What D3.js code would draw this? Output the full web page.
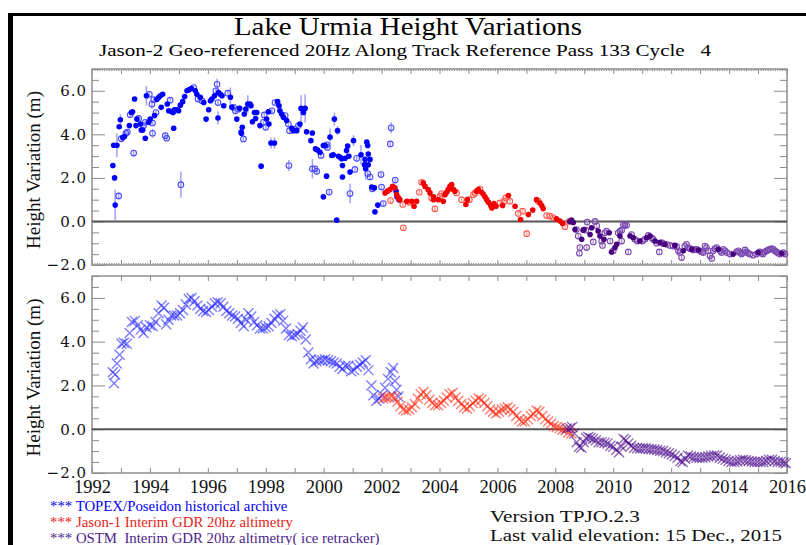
<!DOCTYPE html>
<html>
<head>
<meta charset="utf-8">
<script src="https://cdn.jsdelivr.net/npm/d3@7"></script>
<style>
  body { margin: 0; background: #fff; }
  svg { display: block; }
</style>
</head>
<body>
<div class="chart"></div>
<script>
// ---- data ----
// top panel: [decimal year, height (m), error (m), open marker 1/0]
var topexRaw = [
  [1992.72,2.57,0.1,0],[1992.78,2.0,0.1,0],[1992.80,0.75,0.7,0],[1992.75,3.5,0.1,0],[1992.86,3.5,0.55,0],
  [1992.92,1.17,0.15,1],[1992.94,4.35,0.1,0],[1992.98,4.67,0.25,0],[1993.01,3.8,0.1,1],[1993.06,3.85,0.1,0],
  [1993.12,3.9,0.1,0],[1993.17,4.05,0.1,1],[1993.22,4.1,0.1,1],[1993.29,4.4,0.1,0],[1993.32,4.9,0.1,1],
  [1993.36,5.0,0.1,0],[1993.40,5.04,0.1,0],[1993.44,3.14,0.15,1],[1993.47,5.62,0.1,0],[1993.52,4.4,0.1,0],
  [1993.55,4.7,0.1,0],[1993.61,4.73,0.1,1],[1993.67,4.47,0.1,0],[1993.70,4.2,0.1,0],[1993.75,4.2,0.1,0],
  [1993.78,4.4,0.1,1],[1993.84,4.55,0.1,1],[1993.84,3.82,0.1,0],[1993.88,5.77,0.45,0],[1993.98,5.84,0.1,1],
  [1993.96,4.55,0.1,0],[1994.01,4.7,0.1,0],[1994.07,5.39,0.2,1],[1994.09,4.52,0.1,1],[1994.09,4.05,0.2,1],
  [1994.13,5.59,0.1,1],[1994.16,4.86,0.1,0],[1994.21,5.0,0.1,1],[1994.24,5.6,0.1,0],[1994.30,5.69,0.1,0],
  [1994.36,5.77,0.1,0],[1994.44,5.84,0.1,0],[1994.39,5.24,0.1,0],[1994.53,3.94,0.1,1],[1994.58,3.82,0.1,1],
  [1994.60,5.39,0.1,0],[1994.65,5.08,0.1,0],[1994.70,5.57,0.1,1],[1994.74,5.05,0.1,0],[1994.80,5.0,0.1,0],
  [1994.82,4.28,0.1,0],[1994.85,5.13,0.1,0],[1994.93,5.13,0.1,0],[1994.99,5.08,0.1,0],[1995.07,1.69,0.6,1],
  [1995.05,5.34,0.1,0],[1995.13,5.5,0.1,0],[1995.20,5.74,0.1,0],[1995.28,6.0,0.1,0],[1995.34,6.04,0.1,0],
  [1995.43,6.1,0.1,0],[1995.51,6.15,0.1,1],[1995.57,6.0,0.1,0],[1995.62,5.84,0.1,0],[1995.66,5.62,0.1,1],
  [1995.74,5.7,0.1,0],[1995.80,5.54,0.1,1],[1995.86,5.46,0.1,0],[1995.94,4.7,0.1,0],[1996.03,5.13,0.1,0],
  [1996.09,5.54,0.1,0],[1996.14,5.62,0.1,0],[1996.23,5.77,0.1,0],[1996.32,6.3,0.25,1],[1996.28,6.0,0.1,1],
  [1996.35,5.46,0.1,1],[1996.37,5.92,0.1,0],[1996.43,5.84,0.1,0],[1996.35,4.75,0.3,0],[1996.49,5.77,0.1,0],
  [1996.55,5.31,0.1,0],[1996.69,5.89,0.1,1],[1996.78,5.7,0.45,0],[1996.83,5.24,0.1,0],[1996.89,5.24,0.1,1],
  [1996.95,5.08,0.1,1],[1997.00,4.7,0.1,0],[1997.06,5.16,0.1,1],[1997.10,5.2,0.1,0],[1997.16,4.05,0.1,0],
  [1997.15,4.1,0.1,0],[1997.19,4.32,0.1,0],[1997.23,3.79,0.1,1],[1997.26,4.93,0.1,0],[1997.31,5.16,0.1,0],
  [1997.38,5.39,0.4,0],[1997.46,5.39,0.1,0],[1997.49,5.31,0.1,0],[1997.54,4.58,0.1,0],[1997.61,5.0,0.1,0],
  [1997.65,4.73,0.1,0],[1997.69,5.0,0.1,0],[1997.80,4.4,0.1,0],[1997.84,2.54,0.1,0],[1997.92,4.55,0.1,1],
  [1997.95,4.89,0.1,1],[1998.00,4.32,0.1,1],[1998.03,4.7,0.1,0],[1998.09,5.04,0.1,0],[1998.11,4.47,0.1,0],
  [1998.18,3.6,0.25,0],[1998.30,3.6,0.25,0],[1998.21,5.08,0.1,1],[1998.32,5.46,0.1,1],[1998.41,5.5,0.1,0],
  [1998.46,5.31,0.1,0],[1998.49,5.08,0.1,0],[1998.55,4.93,0.1,0],[1998.61,4.78,0.1,0],[1998.67,4.86,0.1,1],
  [1998.72,4.63,0.1,0],[1998.78,4.47,0.1,1],[1998.80,2.57,0.25,1],[1998.82,4.17,0.1,1],[1998.90,4.28,0.1,0],
  [1998.95,4.17,0.1,0],[1998.99,4.24,0.1,1],[1999.07,4.17,0.1,0],[1999.13,4.4,0.1,1],[1999.18,4.47,0.1,0],
  [1999.22,5.19,0.6,0],[1999.30,5.0,0.1,0],[1999.36,5.19,0.65,0],[1999.41,4.12,0.1,0],[1999.56,3.71,0.1,0],
  [1999.61,4.06,0.1,0],[1999.61,2.42,0.45,1],[1999.70,2.42,0.1,1],[1999.76,2.3,0.1,1],[1999.72,3.33,0.1,0],
  [1999.79,3.28,0.1,0],[1999.87,3.18,0.1,0],[1999.91,3.03,0.1,1],[1999.99,3.49,0.1,0],[2000.05,3.49,0.1,0],
  [2000.10,3.52,0.1,1],[2000.13,3.4,0.1,1],[2000.10,2.08,0.1,0],[1999.99,1.13,0.1,0],[2000.19,1.35,0.1,1],
  [2000.22,3.87,0.4,0],[2000.28,3.03,0.1,0],[2000.33,3.06,0.1,0],[2000.37,4.7,0.3,0],[2000.45,0.06,0.1,0],
  [2000.48,4.17,0.2,0],[2000.51,2.99,0.1,0],[2000.57,2.95,0.1,0],[2000.62,2.88,0.1,0],[2000.65,2.57,0.1,0],
  [2000.65,2.04,0.1,0],[2000.74,2.9,0.1,0],[2000.79,3.26,0.3,0],[2000.83,3.46,0.1,0],[2000.91,1.28,0.45,1],
  [2000.87,2.99,0.1,0],[2000.91,2.27,0.1,0],[2001.03,3.71,0.25,0],[2001.08,2.39,0.1,1],[2001.14,2.9,0.1,1],
  [2001.29,3.06,0.45,0],[2001.41,2.6,0.1,0],[2001.43,2.85,0.1,0],[2001.45,2.42,0.5,0],[2001.49,3.64,0.1,0],
  [2001.52,3.49,0.1,0],[2001.54,3.1,0.1,0],[2001.54,2.6,0.1,0],[2001.60,2.85,0.1,0],[2001.60,2.04,0.1,1],
  [2001.52,2.2,0.1,1],[2001.66,1.58,0.1,0],[2001.75,1.54,0.1,0],[2001.68,1.5,0.1,1],[2001.77,0.44,0.1,0],
  [2001.87,0.75,0.1,0],[2001.98,2.15,0.1,1],[2002.00,1.58,0.1,1],[2002.06,0.82,0.1,1],[2002.30,3.56,0.1,1],
  [2002.33,4.3,0.25,1],[2002.47,1.9,0.1,1],[2002.53,1.13,0.1,0],[2002.50,1.4,0.1,0],[2002.60,1.0,0.1,0]
];

var jason1Raw = [
  [2002.12,1.31,0.1,0],[2002.20,1.39,0.1,0],[2002.29,1.46,0.1,0],[2002.38,1.61,0.1,0],[2002.46,1.54,0.1,0],
  [2002.52,1.24,0.1,0],[2002.58,1.08,0.1,0],[2002.63,1.0,0.1,0],[2002.31,0.96,0.1,1],[2002.73,0.78,0.1,1],
  [2002.75,-0.29,0.1,1],[2002.87,0.93,0.1,0],[2002.96,0.88,0.1,1],[2003.04,0.93,0.1,0],[2003.12,0.7,0.1,0],
  [2003.21,0.93,0.1,0],[2003.30,1.34,0.1,1],[2003.38,1.8,0.1,1],[2003.44,1.77,0.1,0],[2003.50,1.61,0.1,0],
  [2003.61,1.46,0.1,0],[2003.67,1.31,0.1,0],[2003.73,1.08,0.1,1],[2003.79,1.0,0.1,0],[2003.84,0.58,0.15,1],
  [2003.79,1.13,0.1,0],[2003.96,1.0,0.1,0],[2004.02,1.16,0.1,1],[2004.07,1.28,0.1,1],[2004.13,0.93,0.1,0],
  [2004.19,1.23,0.1,0],[2004.25,1.34,0.1,0],[2004.30,1.46,0.1,0],[2004.36,1.61,0.1,0],[2004.42,1.69,0.1,0],
  [2004.48,1.46,0.1,0],[2004.53,1.39,0.1,0],[2004.59,1.31,0.1,1],[2004.76,1.0,0.1,1],[2004.91,0.78,0.1,0],
  [2004.96,1.0,0.1,0],[2005.03,1.0,0.1,1],[2005.17,1.23,0.1,1],[2005.23,1.31,0.1,1],[2005.28,1.39,0.1,0],
  [2005.34,1.46,0.1,0],[2005.40,1.49,0.1,1],[2005.45,1.34,0.1,0],[2005.51,1.26,0.1,0],[2005.57,1.13,0.1,0],
  [2005.63,1.0,0.1,0],[2005.69,0.88,0.1,0],[2005.77,0.73,0.1,0],[2005.81,0.62,0.1,0],[2005.88,0.82,0.1,0],
  [2005.95,0.7,0.1,0],[2006.09,0.85,0.1,1],[2006.18,0.73,0.1,0],[2006.23,0.93,0.1,1],[2006.29,1.08,0.1,1],
  [2006.38,1.19,0.1,0],[2006.43,0.93,0.1,1],[2006.61,0.7,0.1,0],[2006.72,0.37,0.1,1],[2006.80,0.09,0.1,0],
  [2006.87,0.47,0.1,1],[2007.01,-0.56,0.15,1],[2007.07,0.32,0.1,0],[2007.22,0.52,0.1,0],[2007.35,1.0,0.1,0],
  [2007.41,0.93,0.1,1],[2007.47,0.85,0.1,0],[2007.53,0.73,0.1,0],[2007.58,0.59,0.1,0],[2007.70,0.27,0.1,1],
  [2007.81,0.24,0.1,1],[2007.93,0.17,0.1,1],[2008.04,0.12,0.1,0],[2008.16,0.02,0.1,0],[2008.25,-0.09,0.1,0],
  [2008.33,-0.24,0.1,1],[2008.48,0.0,0.1,1]
];

var ostmRaw = [
  [2008.50,0.0,0.1,0],[2008.56,0.06,0.1,0],[2008.62,-0.05,0.1,0],[2008.68,-0.37,0.1,0],[2008.73,-0.37,0.1,1],
  [2008.79,-0.67,0.1,1],[2008.85,-1.2,0.1,1],[2008.83,-1.46,0.1,1],[2008.91,-0.82,0.1,0],[2008.96,-0.4,0.1,0],
  [2008.99,-0.37,0.1,0],[2009.05,-0.4,0.1,1],[2009.10,-0.03,0.1,1],[2009.08,-1.2,0.15,1],[2009.20,-0.6,0.1,0],
  [2009.25,-0.29,0.1,0],[2009.31,-0.94,0.1,1],[2009.37,0.0,0.1,1],[2009.43,-0.2,0.1,1],[2009.48,-0.44,0.1,0],
  [2009.54,-0.67,0.1,0],[2009.60,-0.9,0.1,1],[2009.63,-1.1,0.1,1],[2009.68,-0.82,0.1,0],[2009.71,-0.52,0.1,1],
  [2009.77,-0.44,0.1,1],[2009.86,-0.52,0.1,0],[2009.89,-0.9,0.1,1],[2009.94,-1.4,0.1,0],[2010.00,-1.35,0.1,1],
  [2010.06,-1.2,0.1,0],[2010.12,-1.05,0.1,0],[2010.17,-0.52,0.1,1],[2010.23,-0.44,0.1,1],[2010.29,-0.4,0.1,1],
  [2010.23,-0.67,0.1,0],[2010.29,-0.9,0.1,1],[2010.35,-0.14,0.1,1],[2010.40,-0.18,0.1,1],[2010.46,-0.18,0.1,1],
  [2010.52,-1.4,0.1,1],[2010.58,-0.67,0.1,0],[2010.63,-0.6,0.1,1],[2010.69,-0.75,0.1,0],[2010.75,-0.82,0.1,1],
  [2010.83,-0.9,0.1,1],[2010.92,-0.9,0.1,0],[2011.01,-0.9,0.1,1],[2011.09,-0.82,0.1,1],[2011.15,-0.75,0.1,0],
  [2011.21,-0.64,0.1,1],[2011.27,-0.67,0.1,0],[2011.32,-0.75,0.1,1],[2011.38,-0.82,0.1,1],[2011.44,-0.9,0.1,0],
  [2011.50,-1.0,0.1,1],[2011.59,-1.4,0.1,1],[2011.61,-0.97,0.1,0],[2011.67,-0.97,0.1,1],[2011.73,-1.02,0.1,1],
  [2011.78,-1.05,0.1,0],[2011.84,-1.05,0.1,1],[2011.96,-1.1,0.1,1],[2012.07,-1.13,0.1,1],[2012.13,-1.1,0.1,0],
  [2012.19,-1.16,0.1,1],[2012.25,-1.35,0.1,1],[2012.30,-1.43,0.1,1],[2012.36,-1.66,0.1,1],[2012.42,-1.35,0.1,0],
  [2012.47,-1.13,0.1,1],[2012.53,-1.05,0.1,1],[2012.59,-1.2,0.1,1],[2012.65,-1.25,0.1,1],[2012.71,-1.28,0.1,0],
  [2012.76,-1.31,0.1,1],[2012.82,-1.28,0.1,1],[2012.88,-1.28,0.1,1],[2012.94,-1.31,0.1,0],[2012.99,-1.35,0.1,1],
  [2013.05,-1.4,0.1,1],[2013.11,-1.43,0.1,1],[2013.17,-1.13,0.1,1],[2013.22,-1.2,0.1,1],[2013.28,-1.35,0.1,1],
  [2013.34,-1.58,0.1,1],[2013.40,-1.7,0.1,1],[2013.45,-1.35,0.1,1],[2013.51,-1.25,0.1,1],[2013.57,-1.2,0.1,1],
  [2013.63,-1.28,0.1,0],[2013.69,-1.35,0.1,1],[2013.74,-1.43,0.1,1],[2013.80,-1.28,0.1,1],[2013.86,-1.35,0.1,1],
  [2013.92,-1.43,0.1,1],[2014.03,-1.5,0.1,1],[2014.14,-1.5,0.1,0],[2014.26,-1.4,0.1,1],[2014.32,-1.35,0.1,1],
  [2014.37,-1.43,0.1,1],[2014.43,-1.5,0.1,1],[2014.49,-1.43,0.1,1],[2014.55,-1.31,0.1,1],[2014.60,-1.4,0.1,1],
  [2014.66,-1.46,0.1,1],[2014.72,-1.5,0.1,1],[2014.83,-1.55,0.1,1],[2014.95,-1.5,0.1,1],[2015.00,-1.43,0.1,0],
  [2015.06,-1.4,0.1,1],[2015.12,-1.46,0.1,1],[2015.17,-1.5,0.1,1],[2015.23,-1.4,0.1,1],[2015.30,-1.35,0.1,1],
  [2015.35,-1.31,0.1,1],[2015.41,-1.28,0.1,1],[2015.47,-1.25,0.1,1],[2015.53,-1.28,0.1,1],[2015.58,-1.35,0.1,1],
  [2015.64,-1.4,0.1,1],[2015.70,-1.46,0.1,1],[2015.76,-1.5,0.1,1],[2015.82,-1.46,0.1,0],[2015.87,-1.43,0.1,1],
  [2015.93,-1.5,0.1,1]
];

// bottom panel: filtered series [decimal year, height (m)]
var topexFilt = [
  [1992.72,2.6],[1992.76,2.1],[1992.80,2.5],[1992.86,3.0],[1992.95,3.4],[1993.02,3.9],[1993.10,3.95],
  [1993.20,3.9],[1993.30,4.4],[1993.38,4.9],[1993.48,4.95],[1993.58,4.75],[1993.68,4.55],[1993.78,4.4],
  [1993.88,4.65],[1994.00,4.75],[1994.10,4.7],[1994.20,4.9],[1994.30,5.3],[1994.40,5.65],[1994.48,5.55],
  [1994.56,4.8],[1994.64,5.0],[1994.74,5.2],[1994.84,5.2],[1994.94,5.2],[1995.04,5.3],[1995.14,5.45],
  [1995.24,5.7],[1995.34,5.95],[1995.44,6.0],[1995.54,5.85],[1995.64,5.65],[1995.74,5.5],[1995.84,5.4],
  [1995.94,5.35],[1996.04,5.45],[1996.14,5.6],[1996.24,5.75],[1996.34,5.8],[1996.44,5.75],[1996.54,5.6],
  [1996.64,5.4],[1996.74,5.3],[1996.84,5.2],[1996.94,5.15],[1997.04,5.05],[1997.14,4.85],[1997.24,4.7],
  [1997.32,5.0],[1997.40,5.3],[1997.50,5.15],[1997.60,4.9],[1997.70,4.75],[1997.80,4.6],[1997.90,4.6],
  [1998.00,4.65],[1998.10,4.7],[1998.20,4.85],[1998.30,5.05],[1998.40,5.2],[1998.50,5.25],[1998.60,4.95],
  [1998.70,4.6],[1998.80,4.3],[1998.90,4.25],[1999.00,4.3],[1999.10,4.35],[1999.20,4.5],[1999.28,4.65],
  [1999.38,4.1],[1999.47,3.5],[1999.56,3.2],[1999.65,3.0],[1999.75,3.1],[1999.85,3.15],[1999.95,3.15],
  [2000.05,3.2],[2000.15,3.15],[2000.25,3.1],[2000.35,3.05],[2000.45,3.0],[2000.55,2.85],[2000.65,2.75],
  [2000.75,2.9],[2000.85,2.9],[2000.95,2.65],[2001.05,2.7],[2001.15,2.85],[2001.25,2.95],[2001.35,3.05],
  [2001.45,3.15],[2001.55,2.7],[2001.65,2.0],[2001.72,1.55],[2001.82,1.3],[2001.92,1.4],[2002.02,1.55],
  [2002.12,1.9],[2002.22,2.3],[2002.32,2.6],[2002.40,2.8],[2002.46,2.2],[2002.52,1.8],[2002.58,1.5]
];

var jason1Filt = [
  [2002.05,1.4],[2002.15,1.45],[2002.25,1.45],[2002.35,1.5],[2002.45,1.45],[2002.55,1.25],[2002.65,1.05],
  [2002.75,0.9],[2002.85,0.85],[2002.95,0.9],[2003.05,1.0],[2003.15,1.15],[2003.25,1.4],[2003.35,1.6],
  [2003.45,1.7],[2003.55,1.55],[2003.65,1.35],[2003.75,1.2],[2003.85,1.1],[2003.95,1.1],[2004.05,1.2],
  [2004.15,1.3],[2004.25,1.45],[2004.35,1.6],[2004.45,1.65],[2004.55,1.45],[2004.65,1.3],[2004.75,1.15],
  [2004.85,1.0],[2004.95,0.95],[2005.05,1.05],[2005.15,1.2],[2005.25,1.3],[2005.35,1.4],[2005.45,1.35],
  [2005.55,1.2],[2005.65,1.05],[2005.75,0.9],[2005.85,0.8],[2005.95,0.72],[2006.05,0.8],[2006.15,0.9],
  [2006.25,0.95],[2006.35,1.0],[2006.45,0.9],[2006.55,0.8],[2006.65,0.6],[2006.75,0.45],[2006.85,0.35],
  [2006.95,0.35],[2007.05,0.45],[2007.15,0.6],[2007.25,0.7],[2007.35,0.85],[2007.45,0.8],[2007.55,0.6],
  [2007.65,0.45],[2007.75,0.35],[2007.85,0.25],[2007.95,0.15],[2008.05,0.1],[2008.15,0.05],[2008.25,-0.02],
  [2008.35,-0.05],[2008.45,-0.15],[2008.55,-0.2]
];

var ostmFilt = [
  [2008.40,0.03],[2008.50,0.05],[2008.58,0.1],[2008.66,-0.2],[2008.74,-0.6],[2008.82,-0.8],[2008.90,-0.85],
  [2008.98,-0.6],[2009.06,-0.4],[2009.14,-0.35],[2009.22,-0.4],[2009.30,-0.45],[2009.40,-0.5],[2009.50,-0.6],
  [2009.60,-0.6],[2009.70,-0.62],[2009.80,-0.65],[2009.90,-0.75],[2010.00,-0.8],[2010.10,-0.95],[2010.20,-1.05],
  [2010.28,-0.8],[2010.36,-0.45],[2010.44,-0.5],[2010.52,-0.65],[2010.62,-0.75],[2010.72,-0.85],[2010.82,-0.87],
  [2010.92,-0.88],[2011.02,-0.87],[2011.12,-0.87],[2011.22,-0.9],[2011.32,-0.92],[2011.42,-0.93],[2011.52,-0.95],
  [2011.62,-0.98],[2011.72,-1.0],[2011.82,-1.05],[2011.92,-1.1],[2012.02,-1.15],[2012.12,-1.22],[2012.22,-1.3],
  [2012.32,-1.45],[2012.40,-1.5],[2012.48,-1.35],[2012.58,-1.2],[2012.68,-1.25],[2012.78,-1.28],[2012.88,-1.3],
  [2012.98,-1.3],[2013.08,-1.3],[2013.18,-1.28],[2013.28,-1.25],[2013.38,-1.22],[2013.48,-1.2],[2013.58,-1.2],
  [2013.68,-1.3],[2013.78,-1.35],[2013.88,-1.4],[2013.98,-1.45],[2014.08,-1.5],[2014.18,-1.5],[2014.28,-1.47],
  [2014.38,-1.42],[2014.48,-1.4],[2014.58,-1.42],[2014.68,-1.45],[2014.78,-1.47],[2014.88,-1.5],[2014.98,-1.5],
  [2015.08,-1.5],[2015.18,-1.5],[2015.28,-1.45],[2015.38,-1.4],[2015.48,-1.4],[2015.58,-1.45],[2015.68,-1.5],
  [2015.78,-1.5],[2015.88,-1.52],[2015.96,-1.55]
];

var labelYears = d3.range(1992, 2017, 2);
var legendLines = [
  "*** TOPEX/Poseidon historical archive",
  "*** Jason-1 Interim GDR 20hz altimetry",
  "*** OSTM  Interim GDR 20hz altimetry( ice retracker)"
];

// ---- layout ----
var svgWidth = 806;
var svgHeight = 545;
var plotLeft = 92, plotRight = 787;
var topPanel = { top: 69, bottom: 265 };
var botPanel = { top: 276, bottom: 473 };

var series = [
  { raw: topexRaw, filt: topexFilt, fill: "#0000ff", open: "#4a4aff", err: "#a0a0ff", cross: "#2828ff", text: "#0000ff" },
  { raw: jason1Raw, filt: jason1Filt, fill: "#f40000", open: "#ff5a50", err: "#ffa8a0", cross: "#ff2a10", text: "#e81e14" },
  { raw: ostmRaw, filt: ostmFilt, fill: "#48007e", open: "#7a48b0", err: "#b49ad0", cross: "#4a0a8c", text: "#4b1e8c" }
];

var svg = d3.select(".chart")
  .append("svg")
  .attr("width", svgWidth)
  .attr("height", svgHeight);

svg.append("rect").attr("width", svgWidth).attr("height", svgHeight).attr("fill", "#fff");

// black frame
svg.append("rect").attr("x", 8).attr("y", 13).attr("width", 5).attr("height", svgHeight - 13).attr("fill", "#000");
svg.append("rect").attr("x", 8).attr("y", 13).attr("width", svgWidth - 8).attr("height", 3).attr("fill", "#000");

// titles
svg.append("text")
  .attr("x", 408).attr("y", 34.5)
  .attr("text-anchor", "middle")
  .attr("font-family", "Liberation Serif, serif")
  .attr("font-size", 25)
  .attr("textLength", 348).attr("lengthAdjust", "spacingAndGlyphs")
  .text("Lake Urmia Height Variations");

svg.append("text")
  .attr("x", 405).attr("y", 56)
  .attr("text-anchor", "middle")
  .attr("font-family", "Liberation Serif, serif")
  .attr("font-size", 17.5)
  .style("white-space", "pre")
  .attr("textLength", 612).attr("lengthAdjust", "spacingAndGlyphs")
  .text("Jason-2 Geo-referenced 20Hz Along Track Reference Pass 133 Cycle   4");

var x = d3.scaleLinear().domain([1992, 2016]).range([plotLeft, plotRight]);

function drawPanel(panel, showYears) {
  var y = d3.scaleLinear().domain([-2, 7]).range([panel.bottom, panel.top]);
  var g = svg.append("g");

  // y ticks left (major with labels, minor without) and right
  var minorY = d3.range(-2, 7.01, 0.5).filter(function (v) { return v % 2 !== 0; });
  var majorY = d3.range(-2, 7.01, 2);

  var left = g.append("g").attr("transform", "translate(" + plotLeft + ",0)")
    .call(d3.axisLeft(y).tickValues(majorY).tickSize(-13).tickPadding(5).tickFormat(d3.format(".1f")));
  left.selectAll("text")
    .attr("font-family", "DejaVu Serif, serif")
    .attr("font-size", 15)
    .attr("letter-spacing", 1)
    .attr("fill", "#111");
  g.append("g").attr("transform", "translate(" + plotLeft + ",0)")
    .call(d3.axisLeft(y).tickValues(minorY).tickSize(-7).tickFormat(""));
  g.append("g").attr("transform", "translate(" + plotRight + ",0)")
    .call(d3.axisRight(y).tickValues(majorY).tickSize(-13).tickFormat(""));
  g.append("g").attr("transform", "translate(" + plotRight + ",0)")
    .call(d3.axisRight(y).tickValues(minorY).tickSize(-7).tickFormat(""));

  // x ticks
  var years = d3.range(1992, 2017, 1);
  g.append("g").attr("transform", "translate(0," + panel.top + ")")
    .call(d3.axisTop(x).tickValues(years).tickSize(-5).tickFormat(""));
  g.append("g").attr("transform", "translate(0," + panel.bottom + ")")
    .call(d3.axisBottom(x).tickValues(years).tickSize(-5).tickFormat(""));
  if (!showYears) {
    var months = d3.range(0, 24 * 12 + 1).map(function (m) { return 1992 + m / 12; });
    g.append("g").attr("transform", "translate(0," + panel.top + ")")
      .call(d3.axisTop(x).tickValues(months).tickSize(-2).tickFormat(""));
    g.append("g").attr("transform", "translate(0," + panel.bottom + ")")
      .call(d3.axisBottom(x).tickValues(months).tickSize(-2).tickFormat(""));
  } else {
    var bottom = g.append("g").attr("transform", "translate(0," + panel.bottom + ")")
      .call(d3.axisBottom(x).tickValues(labelYears).tickSize(0).tickPadding(7).tickFormat(d3.format("d")));
    bottom.selectAll("text")
      .attr("font-family", "Liberation Serif, serif")
      .attr("font-size", 18.5)
      .attr("fill", "#111");
  }

  g.selectAll(".domain").remove();
  g.selectAll(".tick line").attr("stroke", "#8a8a8a").attr("stroke-width", 1);

  // frame
  g.append("rect")
    .attr("x", plotLeft).attr("y", panel.top)
    .attr("width", plotRight - plotLeft).attr("height", panel.bottom - panel.top)
    .attr("fill", "none").attr("stroke", "#8f8f8f").attr("stroke-width", 1.5);

  // zero line
  g.append("line")
    .attr("x1", plotLeft).attr("x2", plotRight)
    .attr("y1", y(0)).attr("y2", y(0))
    .attr("stroke", "#555").attr("stroke-width", 2);

  // axis title
  g.append("text")
    .attr("transform", "translate(33," + ((panel.top + panel.bottom) / 2 + 3) + ") rotate(-90)")
    .attr("text-anchor", "middle")
    .attr("dominant-baseline", "central")
    .attr("font-family", "Liberation Serif, serif")
    .attr("font-size", 19)
    .attr("fill", "#111")
    .text("Height Variation (m)");

  return y;
}

var yTop = drawPanel(topPanel, false);
var yBot = drawPanel(botPanel, true);

// top panel: error bars, then markers
series.forEach(function (s) {
  var grp = svg.append("g");
  grp.selectAll("line.err")
    .data(s.raw)
    .enter()
    .append("line")
    .attr("class", "err")
    .attr("x1", d => x(d[0])).attr("x2", d => x(d[0]))
    .attr("y1", d => yTop(d[1] - d[2])).attr("y2", d => yTop(d[1] + d[2]))
    .attr("stroke", s.err).attr("stroke-width", 1.5);

  grp.selectAll("circle.open")
    .data(s.raw.filter(d => d[3] === 1))
    .enter()
    .append("circle")
    .attr("class", "open")
    .attr("cx", d => x(d[0])).attr("cy", d => yTop(d[1]))
    .attr("r", 2.8)
    .attr("fill", "none")
    .attr("stroke", s.open).attr("stroke-width", 1.1);

  grp.selectAll("circle.full")
    .data(s.raw.filter(d => d[3] === 0))
    .enter()
    .append("circle")
    .attr("class", "full")
    .attr("cx", d => x(d[0])).attr("cy", d => yTop(d[1]))
    .attr("r", 2.8)
    .attr("fill", s.fill);
});

// bottom panel: x markers
series.forEach(function (s) {
  svg.append("g").selectAll("path")
    .data(s.filt)
    .enter()
    .append("path")
    .attr("transform", d => "translate(" + x(d[0]) + "," + yBot(d[1]) + ")")
    .attr("d", "M-5,-5L5,5M-5,5L5,-5")
    .attr("stroke", s.cross)
    .attr("stroke-opacity", 0.6)
    .attr("stroke-width", 1.4)
    .attr("fill", "none");
});

// legend and version notes
legendLines.forEach(function (line, i) {
  svg.append("text")
    .attr("x", 50).attr("y", 511 + i * 16)
    .attr("font-family", "Liberation Serif, serif")
    .attr("font-size", 14.8)
    .attr("fill", series[i].text)
    .style("white-space", "pre")
    .text(line);
});

svg.append("text")
  .attr("x", 490).attr("y", 521.5)
  .attr("font-family", "Liberation Serif, serif")
  .attr("font-size", 17)
  .attr("fill", "#111")
  .attr("textLength", 150).attr("lengthAdjust", "spacingAndGlyphs")
  .text("Version TPJO.2.3");

svg.append("text")
  .attr("x", 490).attr("y", 541)
  .attr("font-family", "Liberation Serif, serif")
  .attr("font-size", 17)
  .attr("fill", "#111")
  .attr("textLength", 292).attr("lengthAdjust", "spacingAndGlyphs")
  .text("Last valid elevation: 15 Dec., 2015");
</script>
</body>
</html>
